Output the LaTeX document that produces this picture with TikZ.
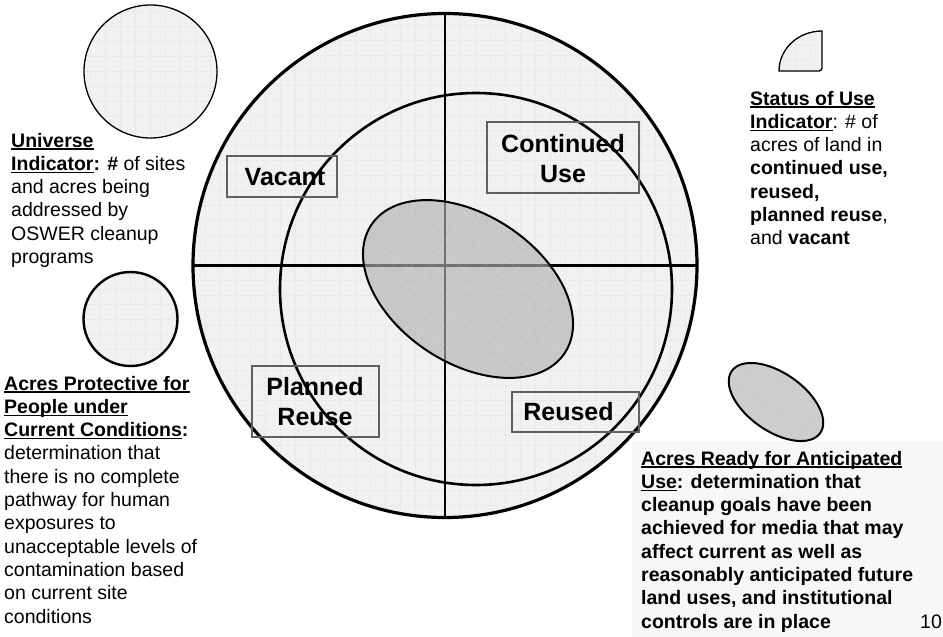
\documentclass[tikz,border=0pt]{standalone}
\usepackage{fontspec}
\setmainfont{Liberation Sans}
\usetikzlibrary{shapes.geometric}
\definecolor{lightfill}{HTML}{F1F1F1}
\definecolor{gridc}{HTML}{EAEAEA}
\definecolor{ellfill}{HTML}{B0B0B0}
\definecolor{boxedge}{HTML}{606060}
\definecolor{notefill}{HTML}{F7F7F7}
\newcommand\myul[1]{\setbox0\hbox{#1}\rlap{\rule[-2.6pt]{\wd0}{1.4pt}}\box0}
\begin{document}
\begin{tikzpicture}[x=1pt,y=-1pt,
  gridded/.style={path picture={\begin{scope}[rotate=#1]
      \draw[gridc, line width=0.5pt, step=15pt] (-300,300) grid (300,-300);
    \end{scope}}},
  gridded/.default=0,
  darkgrid/.style={path picture={\begin{scope}[rotate=#1]
      \draw[white, opacity=0.16, line width=0.5pt, step=15pt] (-300,300) grid (300,-300);
    \end{scope}}},
  darkgrid/.default=0,
  gridbox/.style={path picture={
      \draw[gridc, line width=0.5pt, step=15pt] (path picture bounding box.south west) grid (path picture bounding box.north east);}},
  labelbox/.style={draw=boxedge, line width=1.1pt, inner sep=0pt, outer sep=0pt},
  labeltext/.style={font=\fontsize{25}{30}\selectfont\bfseries, align=center, inner sep=0pt, anchor=base},
  bodytext/.style={font=\fontsize{19.5}{23.3}\selectfont, align=left, inner sep=0pt, anchor=base west},
]
\useasboundingbox[fill=white] (0,637) rectangle (943,0);

% note background
\node[fill=notefill, inner sep=0pt, outer sep=0pt, minimum width=311pt, minimum height=195pt, anchor=north west] (notebg) at (632,442) {};

% main circle
\node[circle, draw, line width=3.2pt, fill=lightfill, gridded, minimum size=504pt, inner sep=0pt, outer sep=0pt] (outer) at (445,265.5) {};
\node[circle, draw, line width=2.6pt, minimum size=392pt, inner sep=0pt, outer sep=0pt] (inner) at (476,289) {};
\draw[line width=2.6pt] (outer.west) -- (outer.east);
\draw[line width=2.6pt] (outer.north) -- (outer.south);
\node[ellipse, draw, line width=2pt, fill=ellfill, fill opacity=0.63, darkgrid=33.5, minimum width=232pt, minimum height=148pt, inner sep=0pt, outer sep=0pt, rotate=-33.5] (core) at (468,289) {};

% label boxes (text baselines given for the last line)
\node[labelbox, minimum width=110pt, minimum height=41pt] (vacbox) at (282,176.5) {};
\node[labeltext] (vactext) at (285,185.7) {Vacant};
\node[labelbox, minimum width=152pt, minimum height=71pt] (contbox) at (563,157.5) {};
\node[labeltext] (conttext) at (563,182.5) {Continued\\Use};
\node[labelbox, minimum width=127pt, minimum height=71pt] (planbox) at (315.5,401.5) {};
\node[labeltext] (plantext) at (315,425.8) {Planned\\Reuse};
\node[labelbox, minimum width=127pt, minimum height=40pt] (reubox) at (575.5,412) {};
\node[labeltext] (reutext) at (568.5,420.7) {Reused};

% icons
\node[circle, draw, line width=1.3pt, fill=lightfill, gridded, minimum size=133pt, inner sep=0pt, outer sep=0pt] (univicon) at (150.5,71.5) {};
\node[circle, draw, line width=2.4pt, fill=lightfill, gridded, minimum size=94pt, inner sep=0pt, outer sep=0pt] (proticon) at (130.5,319) {};
\filldraw[fill=lightfill, draw=black, line width=1.3pt, gridbox]
  (779,71) .. controls (779,48.9) and (798.3,31) .. (822,31)
  [rounded corners=3pt] -- (822,71) [sharp corners] -- cycle;
\node[ellipse, draw, line width=2pt, fill=ellfill, fill opacity=0.63, darkgrid=35, minimum width=108pt, minimum height=58pt, inner sep=0pt, outer sep=0pt, rotate=-35] (readyicon) at (776,402) {};

% texts (anchored at the baseline of the last line)
\node[bodytext] (univtext) at (11,263.5) {{\bfseries\myul{Universe}}\\
{\bfseries\myul{Indicator}: \#} of sites\\
and acres being\\
addressed by\\
OSWER cleanup\\
programs};

\node[bodytext] (prottext) at (4,623) {{\bfseries\myul{Acres Protective for}}\\
{\bfseries\myul{People under}}\\
{\bfseries\myul{Current Conditions}:}\\
determination that\\
there is no complete\\
pathway for human\\
exposures to\\
unacceptable levels of\\
contamination based\\
on current site\\
conditions};

\node[bodytext] (stattext) at (750,244.8) {{\bfseries\myul{Status of Use}}\\
{\bfseries\myul{Indicator}}: \# of\\
acres of land in\\
{\bfseries continued use,}\\
{\bfseries reused,}\\
{\bfseries planned reuse},\\
and {\bfseries vacant}};

\node[bodytext] (readytext) at (641,628.1) {{\bfseries\myul{Acres Ready for Anticipated}}\\
{\bfseries\myul{Use}: determination that}\\
{\bfseries cleanup goals have been}\\
{\bfseries achieved for media that may}\\
{\bfseries affect current as well as}\\
{\bfseries reasonably anticipated future}\\
{\bfseries land uses, and institutional}\\
{\bfseries controls are in place}};

\node[bodytext] (pagenum) at (920,628) {10};
\end{tikzpicture}
\end{document}
